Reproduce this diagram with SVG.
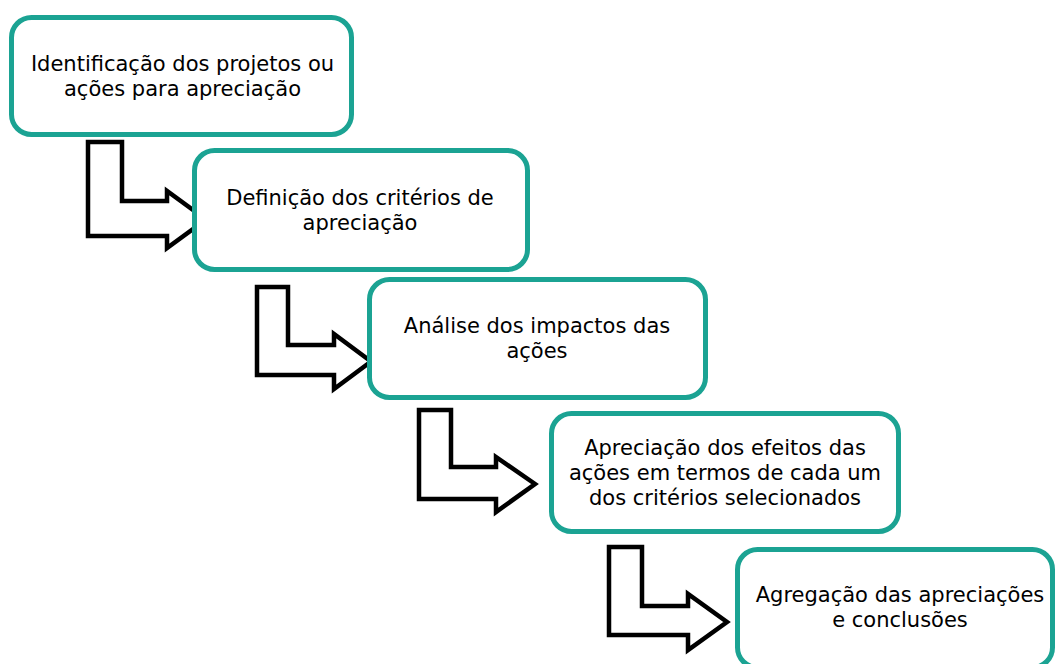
<svg xmlns="http://www.w3.org/2000/svg" width="1057" height="664" viewBox="0 0 1057 664">
<style>
.box{fill:#fff;stroke:#1BA393;stroke-width:5}
.arr{fill:#fff;stroke:#000;stroke-width:4.5;stroke-linejoin:miter}
.t{font-family:"DejaVu Sans",Verdana,sans-serif;font-size:21px;fill:#000;text-anchor:middle}
</style>
<rect width="1057" height="664" fill="#fff"/>
<g id="connectors">
<path class="arr" d="M88,142 H122 V201 H167 V191 L206,219.5 L167,248 V236 H88 Z"/>
<path class="arr" d="M257,287 H288 V345 H334 V334 L371,361.5 L334,389 V375 H257 Z"/>
<path class="arr" d="M419,410 H451 V467 H496 V457 L535,484 L496,512 V499 H419 Z"/>
<path class="arr" d="M609,547 H642 V606 H688 V594 L727,622 L688,650 V635 H609 Z"/>
</g>
<g id="node1">
<rect class="box" x="11.5" y="17.5" width="340" height="117" rx="20"/>
<text class="t" x="182.5" y="71">Identificação dos projetos ou</text>
<text class="t" x="182.5" y="96">ações para apreciação</text>
</g>
<g id="node2">
<rect class="box" x="194.5" y="150.5" width="333" height="119" rx="20"/>
<text class="t" x="360" y="205">Definição dos critérios de</text>
<text class="t" x="360" y="230">apreciação</text>
</g>
<g id="node3">
<rect class="box" x="369.5" y="279.5" width="336" height="118" rx="20"/>
<text class="t" x="537" y="333">Análise dos impactos das</text>
<text class="t" x="537" y="358">ações</text>
</g>
<g id="node4">
<rect class="box" x="551.5" y="413.5" width="347" height="118" rx="20"/>
<text class="t" x="725" y="454.5">Apreciação dos efeitos das</text>
<text class="t" x="725" y="479.5">ações em termos de cada um</text>
<text class="t" x="725" y="504.5">dos critérios selecionados</text>
</g>
<g id="node5">
<rect class="box" x="737.5" y="549.5" width="315" height="118" rx="20"/>
<text class="t" x="900" y="602">Agregação das apreciações</text>
<text class="t" x="900" y="627">e conclusões</text>
</g>
</svg>
